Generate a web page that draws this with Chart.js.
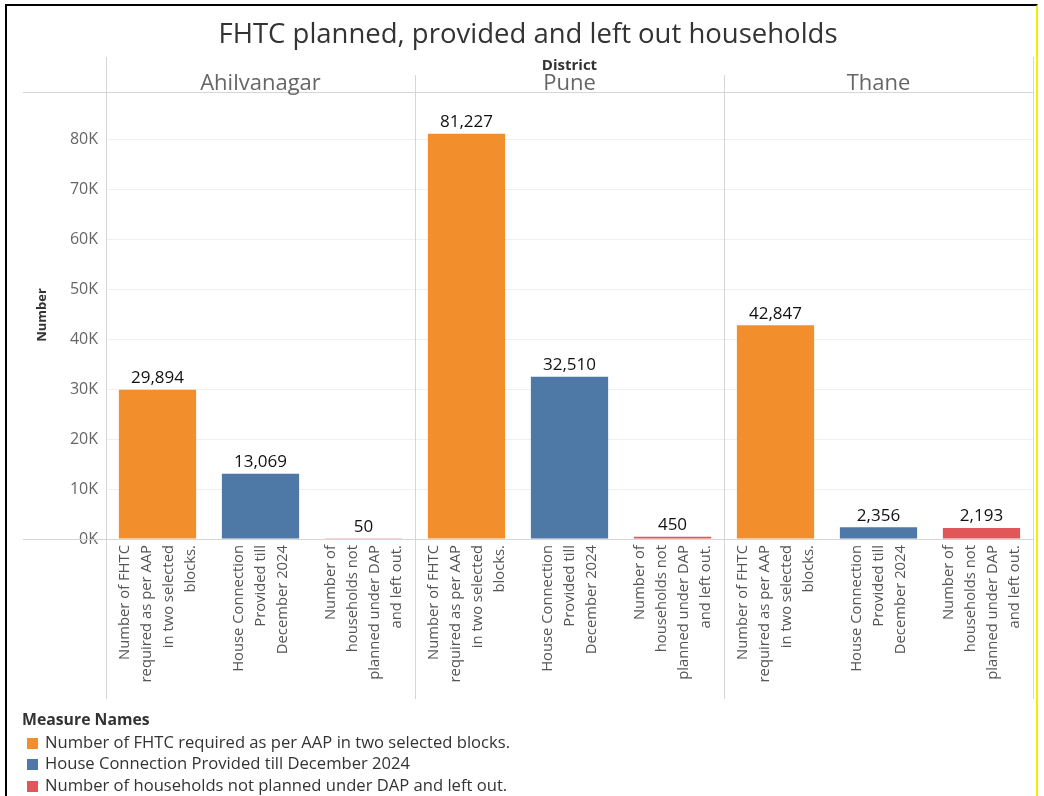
<!DOCTYPE html>
<html>
<head>
<meta charset="utf-8">
<script src="https://cdn.jsdelivr.net/npm/chart.js@4.4.1/dist/chart.umd.min.js"></script>
<style>
  body { margin: 0; background: #fff; font-family: 'Open Sans', sans-serif; }
  #wrap { position: relative; width: 1044px; height: 796px; overflow: hidden; }
  #frame { position: absolute; left: 5px; top: 4px; width: 1033px; height: 800px; box-sizing: border-box;
           border-left: 2px solid #000; border-top: 2px solid #000; border-right: 2px solid #f2f200; pointer-events: none; }
  #legend { position: absolute; left: 22px; top: 709px; color: #333; font-size: 16.6px; }
  #legend .row { height: 21.5px; line-height: 21.5px; white-space: nowrap; }
  #legend .head { font-weight: bold; font-size: 15.8px; }
  #legend .sw { display: inline-block; width: 11px; height: 11px; margin: 0 7px 0 5px; vertical-align: -1px; }
</style>
</head>
<body>
<div id="wrap">
  <canvas id="chart" width="1044" height="796"></canvas>
  <div id="legend"></div>
  <div id="frame"></div>
</div>
<script>
// data
const districts = ['Ahilvanagar', 'Pune', 'Thane'];
const measures = [
  'Number of FHTC required as per AAP in two selected blocks.',
  'House Connection Provided till December 2024',
  'Number of households not planned under DAP and left out.'
];
// wrapped tick labels, same for each district
const measureTickLines = [
  ['Number of FHTC', 'required as per AAP', 'in two selected', 'blocks.'],
  ['House Connection', 'Provided till', 'December 2024'],
  ['Number of', 'households not', 'planned under DAP', 'and left out.']
];
const fhtcRequired = [29894, 81227, 42847];
const connectionProvided = [13069, 32510, 2356];
const leftOut = [50, 450, 2193];
const yTicks = [0, 10000, 20000, 30000, 40000, 50000, 60000, 70000, 80000];
const colors = ['#f28e2b', '#4e79a7', '#e15759'];

// build the flat table: district x measure
const seriesByMeasure = [fhtcRequired, connectionProvided, leftOut];
const labels = [], values = [], barColors = [];
districts.forEach((d, di) => {
  measureTickLines.forEach((lines, mi) => {
    labels.push(lines);
    values.push(seriesByMeasure[mi][di]);
    barColors.push(colors[mi]);
  });
});

// legend (html)
const legend = document.getElementById('legend');
legend.innerHTML = '<div class="row head">Measure Names</div>' +
  measures.map((m, i) => `<div class="row"><span class="sw" style="background:${colors[i]}"></span>${m}</div>`).join('');

const FONT = "'Open Sans', sans-serif";

const panelPlugin = {
  id: 'panels',
  afterDraw(chart) {
    const ctx = chart.ctx;
    const area = chart.chartArea;
    const x = chart.scales.x;
    const y = chart.scales.y;
    const per = measureTickLines.length;
    const bottom = 699;
    ctx.save();

    // title
    ctx.fillStyle = '#333';
    ctx.font = `27.5px ${FONT}`;
    ctx.textAlign = 'center';
    ctx.textBaseline = 'middle';
    ctx.fillText('FHTC planned, provided and left out households', 528, 35);

    // panel boundaries
    const bounds = [area.left];
    for (let d = 1; d < districts.length; d++) {
      bounds.push((x.getPixelForTick(d * per - 1) + x.getPixelForTick(d * per)) / 2);
    }
    bounds.push(area.right);

    ctx.strokeStyle = '#d6d6d6';
    ctx.lineWidth = 1;
    bounds.forEach((bx, i) => {
      const top = (i === 0 || i === bounds.length - 1) ? 57 : 75;
      ctx.beginPath();
      ctx.moveTo(Math.round(bx) + 0.5, top);
      ctx.lineTo(Math.round(bx) + 0.5, bottom);
      ctx.stroke();
    });
    // header line and zero line
    ctx.beginPath();
    ctx.moveTo(23, Math.round(area.top) + 0.5);
    ctx.lineTo(area.right, Math.round(area.top) + 0.5);
    const y0 = Math.round(y.getPixelForValue(0)) + 0.5;
    ctx.moveTo(23, y0);
    ctx.lineTo(area.right, y0);
    ctx.stroke();

    // district header
    ctx.fillStyle = '#333';
    ctx.font = `bold 15px ${FONT}`;
    ctx.fillText('District', (area.left + area.right) / 2, 66);
    ctx.fillStyle = '#666';
    ctx.font = `22px ${FONT}`;
    districts.forEach((d, i) => {
      ctx.fillText(d, (bounds[i] + bounds[i + 1]) / 2, 84);
    });

    // y axis title
    ctx.save();
    ctx.translate(42, 315);
    ctx.rotate(-Math.PI / 2);
    ctx.fillStyle = '#333';
    ctx.font = `bold 13px ${FONT}`;
    ctx.fillText('Number', 0, 0);
    ctx.restore();

    // x tick labels, rotated, each line right-aligned at the axis
    ctx.fillStyle = '#555';
    ctx.font = `14.8px ${FONT}`;
    ctx.textAlign = 'right';
    labels.forEach((lines, i) => {
      const px = x.getPixelForTick(i);
      ctx.save();
      ctx.translate(px, 545);
      ctx.rotate(-Math.PI / 2);
      lines.forEach((ln, j) => {
        ctx.fillText(ln, 0, (j - (lines.length - 1) / 2) * 22);
      });
      ctx.restore();
    });

    // value labels
    ctx.fillStyle = '#111';
    ctx.font = `17px ${FONT}`;
    ctx.textAlign = 'center';
    ctx.textBaseline = 'bottom';
    chart.getDatasetMeta(0).data.forEach((bar, i) => {
      ctx.fillText(values[i].toLocaleString('en-US'), bar.x, bar.y - 3);
    });
    ctx.restore();
  }
};

new Chart(document.getElementById('chart'), {
  type: 'bar',
  data: {
    labels: labels,
    datasets: [{
      data: values,
      backgroundColor: barColors,
      barPercentage: 0.75,
      categoryPercentage: 1.0
    }]
  },
  options: {
    responsive: false,
    animation: false,
    devicePixelRatio: 1,
    layout: { padding: { top: 92, right: 11, bottom: 97, left: 0 } },
    plugins: { legend: { display: false }, tooltip: { enabled: false } },
    scales: {
      x: {
        grid: { display: false },
        border: { display: false },
        ticks: { display: false },
        afterFit(scale) { scale.height = 160; }
      },
      y: {
        min: 0,
        max: 89600,
        grid: { color: '#f0f0f0', drawTicks: false },
        border: { display: false },
        afterBuildTicks(scale) { scale.ticks = yTicks.map(v => ({ value: v })); },
        ticks: {
          padding: 8,
          color: '#666',
          font: { family: FONT, size: 16 },
          callback: v => (v / 1000) + 'K'
        },
        afterFit(scale) { scale.width = 106; }
      }
    }
  },
  plugins: [panelPlugin]
});
</script>
</body>
</html>
